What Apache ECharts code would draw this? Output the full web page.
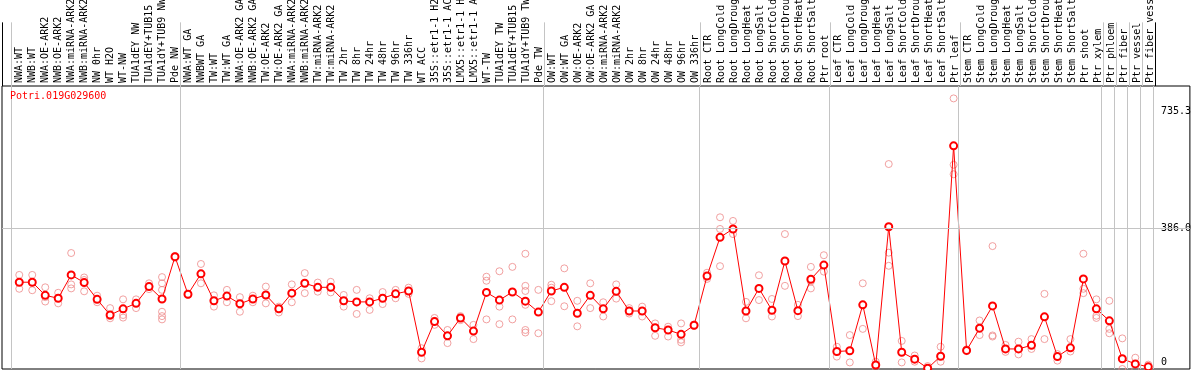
<!DOCTYPE html>
<html><head><meta charset="utf-8">
<script src="https://cdn.jsdelivr.net/npm/echarts@6/dist/echarts.min.js"></script>
<style>html,body{margin:0;padding:0;background:#fff}#c{width:1194px;height:370px}</style>
</head><body><div id="c"></div>
<script>
const geneName = 'Potri.019G029600';
const categories = [
 'NWA:WT','NWB:WT','NWA:OE-ARK2','NWB:OE-ARK2','NWA:miRNA-ARK2','NWB:miRNA-ARK2','NW 0hr','WT H2O','WT-NW','TUA1dEY NW','TUA1dEY+TUB15 NW','TUA1dY+TUB9 NW','Pde NW',
 'NWA:WT GA','NWBWT GA','TW:WT','TW:WT GA','NWA:OE-ARK2 GA','NWB:OE-ARK2 GA','TW:OE-ARK2','TW:OE-ARK2 GA','NWA:miRNA-ARK2 GA','NWB:miRNA-ARK2 GA','TW:miRNA-ARK2','TW:miRNA-ARK2 GA',
 'TW 2hr','TW 8hr','TW 24hr','TW 48hr','TW 96hr','TW 336hr','WT ACC','35S::etr1-1 H2O','35S::etr1-1 ACC','LMX5::etr1-1 H2O','LMX5::etr1-1 ACC','WT-TW','TUA1dEY TW','TUA1dEY+TUB15 TW','TUA1dY+TUB9 TW','Pde TW',
 'OW:WT','OW:WT GA','OW:OE-ARK2','OW:OE-ARK2 GA','OW:miRNA-ARK2','OW:miRNA-ARK2 GA','OW 2hr','OW 8hr','OW 24hr','OW 48hr','OW 96hr','OW 336hr',
 'Root CTR','Root LongCold','Root LongDrought','Root LongHeat','Root LongSalt','Root ShortCold','Root ShortDrought','Root ShortHeat','Root ShortSalt','Ptr root',
 'Leaf CTR','Leaf LongCold','Leaf LongDrought','Leaf LongHeat','Leaf LongSalt','Leaf ShortCold','Leaf ShortDrought','Leaf ShortHeat','Leaf ShortSalt','Ptr leaf',
 'Stem CTR','Stem LongCold','Stem LongDrought','Stem LongHeat','Stem LongSalt','Stem ShortCold','Stem ShortDrought','Stem ShortHeat','Stem ShortSalt','Ptr shoot','Ptr xylem',
 'Ptr phloem','Ptr fiber','Ptr vessel','Ptr fiber vessel'
];
const meanValues = [
 238,238,202,194,258,237,191,148,165,180,
 226,192,308,205,261,187,200,179,192,203,
 165,208,235,224,224,187,184,184,194,206,
 214,46,130,91,140,104,210,189,211,186,
 156,214,224,153,202,165,213,159,159,113,
 107,95,120,255,361,384,159,221,161,296,
 160,246,285,48,50,176,11,390,46,27,
 2,35,612,51,112,173,55,55,65,143,
 34,58,247,165,132,28,14,6
];
const replicateValues = [
 [258,220],[258,216],[224,185,197],[209,180],[318,232,221],[251,244,213],[201,183],[167,139,145],[191,148,141],[191,167],
 [235,219],[252,235,217,157,145,136],[305,310],[203,206],[288,235],[202,171],[217,183],[197,157],[201,183],[226,180],
 [171,155],[232,183],[263,208],[237,212],[239,210],[203,171],[217,151],[194,162],[211,178],[217,194],
 [223,206],[57,29],[132,121,140],[107,71],[145,134],[121,82],[253,242,136],[268,171,123],[280,136],[316,228,214,176,107,100],
 [217,98],[231,223,186],[276,172],[187,117],[235,167],[183,144],[232,193],[167,152],[171,144],[125,91],
 [116,89],[125,73,80],[118,122],[264,247],[416,384,282],[406,370],[184,139],[257,189],[192,144],[370,228],
 [176,145],[280,221,240],[312,267],[61,34],[93,18],[235,110],[20,3],[562,319,283],[77,18],[37,20],
 [8,2],[61,20],[742,560,534],[49,54],[133,93],[337,89,92],[66,47],[75,40],[82,55],[206,82],
 [23,41],[82,48],[316,220,208],[191,146,140],[187,110,98],[84,0],[31,0],[0,12]
];
const groupEnds = [-1, 12, 40, 52, 62, 72, 83, 84, 85, 86, 87];
const yTickValues = [0, 386.0, 735.3];
const refLineValue = 386.0;

const X_MIN = -1.3308, X_MAX = 90.2077, Y_MAX = 776;
const MONO = '"DejaVu Sans Mono", monospace';
const GRID_GREY = '#c4c4c4';
const idx = categories.map((_, i) => i);
const sepX = groupEnds.map(e => e + 0.38);
const fmtY = v => (v === 0 ? '0' : Number(v).toFixed(1));

const meanData = meanValues.map((v, i) => [i, v]);
const repData = [];
replicateValues.forEach((arr, i) => arr.forEach(v => repData.push([i, v])));

const baseYAxis = (vals, va, pad) => ({
  gridIndex: 1, type: 'value', min: 0, max: Y_MAX, position: 'right',
  axisLine: {show: false}, axisTick: {show: false}, splitLine: {show: false},
  axisLabel: {inside: true, margin: 29, align: 'left', customValues: vals, formatter: fmtY,
    verticalAlign: va, padding: pad, fontFamily: MONO, fontSize: 10, color: '#000'}
});

const chart = echarts.init(document.getElementById('c'), null, {renderer: 'canvas'});
chart.setOption({
  animation: false,
  backgroundColor: '#fff',
  title: {text: geneName, left: 10, top: 91, padding: 0,
    textStyle: {color: '#ff0000', fontFamily: MONO, fontSize: 10, fontWeight: 'normal'}},
  grid: [
    {left: 2, right: 2, top: 0, height: 86, show: false},
    {left: 2, right: 2, top: 86, bottom: 1, show: true, borderColor: '#000', borderWidth: 1}
  ],
  xAxis: [
    {gridIndex: 0, type: 'value', min: X_MIN, max: X_MAX, position: 'bottom',
     axisLine: {show: false}, axisTick: {show: false}, splitLine: {show: false},
     axisLabel: {inside: true, rotate: 90, margin: 3, customValues: idx,
       formatter: v => categories[Math.round(v)] || '', fontFamily: MONO, fontSize: 10, color: '#000'}},
    {gridIndex: 1, type: 'value', min: X_MIN, max: X_MAX, show: false}
  ],
  yAxis: [
    {gridIndex: 0, type: 'value', min: 0, max: 1, show: false},
    baseYAxis([yTickValues[2]], 'top', [6, 0, 0, 0]),
    baseYAxis([yTickValues[1]], 'middle', [4, 0, 0, 0]),
    baseYAxis([yTickValues[0]], 'bottom', [0, 0, 2, 0])
  ],
  series: [
    {type: 'line', xAxisIndex: 0, yAxisIndex: 0, data: [[0, -5]], symbol: 'none',
     lineStyle: {opacity: 0}, silent: true,
     markLine: {silent: true, symbol: 'none', label: {show: false}, animation: false,
       data: sepX.map((x, k) => ({xAxis: x, lineStyle: {color: k === sepX.length - 1 ? '#000' : GRID_GREY, width: 1, type: 'solid'}}))
         .concat([{xAxis: X_MIN, lineStyle: {color: '#000', width: 1, type: 'solid'}}])}},
    {type: 'line', xAxisIndex: 1, yAxisIndex: 1, data: [[0, -50]], symbol: 'none',
     lineStyle: {opacity: 0}, silent: true, z: 1,
     markLine: {silent: true, symbol: 'none', label: {show: false}, animation: false,
       lineStyle: {color: GRID_GREY, width: 1, type: 'solid'},
       data: sepX.map(x => ({xAxis: x})).concat([{yAxis: refLineValue}])}},
    {type: 'scatter', xAxisIndex: 1, yAxisIndex: 1, data: repData, symbol: 'circle', symbolSize: 7, z: 2,
     itemStyle: {color: 'rgba(0,0,0,0)', borderColor: '#ee8a8a', borderWidth: 1}},
    {type: 'line', xAxisIndex: 1, yAxisIndex: 1, data: meanData, symbol: 'emptyCircle', symbolSize: 7, z: 3,
     lineStyle: {color: '#ff0000', width: 1}, itemStyle: {color: '#ff0000', borderColor: '#ff0000', borderWidth: 1.5}}
  ]
});
</script></body></html>
